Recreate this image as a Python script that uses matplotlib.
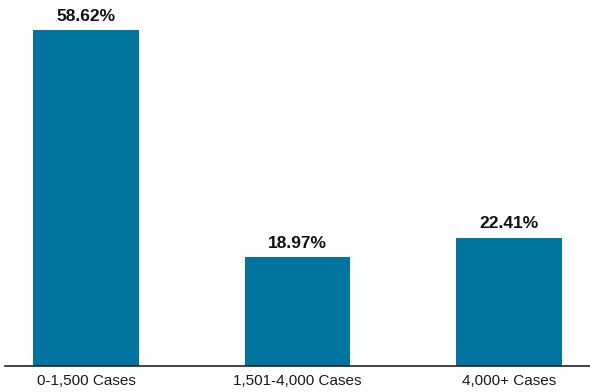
import matplotlib
matplotlib.use("Agg")
import matplotlib.pyplot as plt

categories = ["0-1,500 Cases", "1,501-4,000 Cases", "4,000+ Cases"]
shares = [58.62, 18.97, 22.41]
value_labels = ["58.62%", "18.97%", "22.41%"]

bar_color = "#0274a0"
font_family = ["Liberation Sans", "DejaVu Sans"]

fig = plt.figure(figsize=(5.9, 3.92), dpi=100)
ax = fig.add_axes([5 / 590, 26 / 392, 585 / 590, 366 / 392])

x = range(len(categories))
bars = ax.bar(x, shares, width=0.5, color=bar_color)

for rect, lab in zip(bars, value_labels):
    ax.annotate(lab, (rect.get_x() + rect.get_width() / 2, rect.get_height()),
                xytext=(0, 4.5), textcoords="offset points", ha="center", va="bottom",
                fontsize=12.5, fontweight="bold", family=font_family, color="#111111")

ax.set_xlim(-0.383, 2.383)
ax.set_ylim(0, 63.9)
ax.set_xticks(list(x))
ax.set_xticklabels(categories, family=font_family, fontsize=11, color="#1a1a1a")
ax.tick_params(axis="x", length=0, pad=6)
ax.set_yticks([])
for side in ("top", "right", "left"):
    ax.spines[side].set_visible(False)
ax.spines["bottom"].set_color("#222222")
ax.spines["bottom"].set_linewidth(1.2)

fig.savefig("out.png", dpi=100)
